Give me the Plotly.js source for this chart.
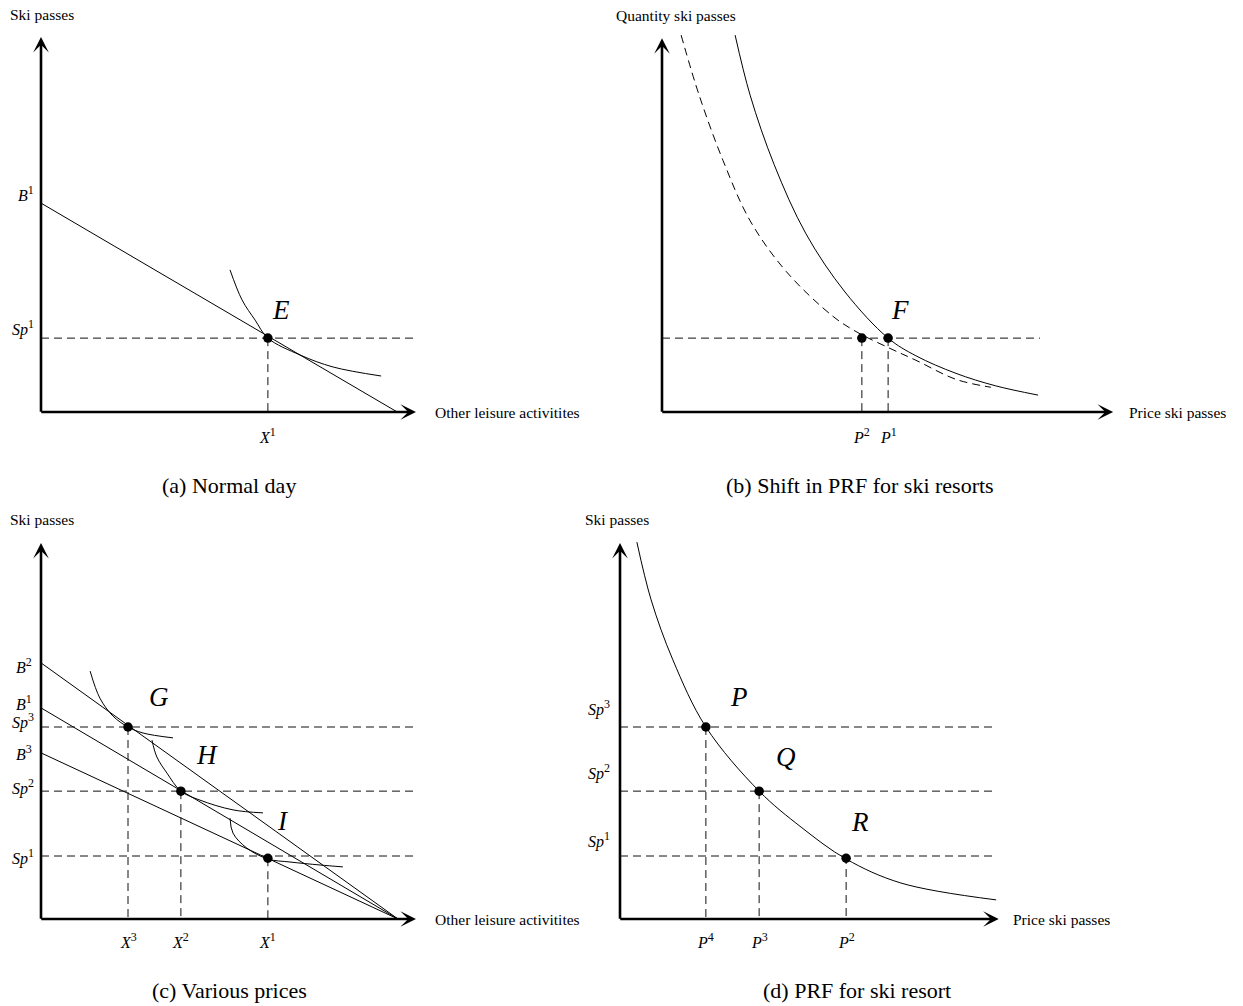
<!DOCTYPE html>
<html>
<head>
<meta charset="utf-8">
<script src="https://cdn.plot.ly/plotly-3.0.1.min.js"></script>
<style>html,body{margin:0;padding:0;background:#fff;}</style>
</head>
<body>
<div id="chart" style="width:1243px;height:1006px;"></div>
<script>
// superscript index drawn a little larger than Plotly's default 70%
function idx(base, n) {
  return '<i>' + base + '</i><sup><span style="font-size:12px">' + n + '</span></sup>';
}

// ---------- (a) Normal day ----------
const aBudgetX = [0, 9.5];
const aBudgetY = [5.57, 0];
const aIndiffX = [5.04, 5.36, 5.71, 6.05, 6.91, 7.79, 9.07];
const aIndiffY = [3.79, 2.99, 2.45, 1.97, 1.52, 1.20, 0.96];
const aPointE = [6.05, 1.97];
const aLeftTickVals = [5.57, 1.97];
const aLeftTickText = [idx('B', 1), idx('Sp', 1)];
const aBottomTickVals = [6.05];
const aBottomTickText = [idx('X', 1)];

// ---------- (b) Shift in PRF for ski resorts ----------
const bPrfX = [1.95, 2.35, 2.99, 3.84, 4.88, 6.03, 6.77, 7.84, 8.89, 10.03];
const bPrfY = [10.05, 8.45, 6.6, 4.75, 3.2, 1.97, 1.5, 1.03, 0.70, 0.45];
const bShiftedX = [0.51, 0.99, 1.63, 2.35, 3.31, 4.56, 5.20, 6.05, 6.77, 7.84, 8.77];
const bShiftedY = [10.05, 8.45, 6.7, 5.1, 3.75, 2.55, 2.13, 1.71, 1.38, 0.87, 0.66];
const bQuantity = 1.97;
const bPrices = [5.33, 6.03];
const bBottomTickText = [idx('P', 2), idx('P', 1)];

// ---------- (c) Various prices ----------
const cBudgetEnd = 9.52;
const cBudgetIntercepts = [6.83, 5.63, 4.43];          // B2, B1, B3
const cBudgetText = [idx('B', 2), idx('B', 1), idx('B', 3)];
const cSkiLevels = [5.12, 3.41, 1.68];                  // Sp3, Sp2, Sp1
const cSkiText = [idx('Sp', 3), idx('Sp', 2), idx('Sp', 1)];
const cOtherLevels = [2.32, 3.73, 6.05];                // X3, X2, X1
const cOtherText = [idx('X', 3), idx('X', 2), idx('X', 1)];
const cPointsX = [2.32, 3.73, 6.05];                    // G, H, I
const cPointsY = [5.12, 3.41, 1.62];
const cPointNames = ['G', 'H', 'I'];
const cIndiffGX = [1.31, 1.57, 1.92, 2.32, 2.72, 3.52];
const cIndiffGY = [6.61, 5.89, 5.41, 5.12, 4.96, 4.83];
const cIndiffHX = [2.96, 3.09, 3.36, 3.73, 4.24, 5.12, 5.92];
const cIndiffHY = [4.77, 4.32, 3.89, 3.41, 3.17, 2.91, 2.83];
const cIndiffIX = [5.04, 5.12, 5.49, 6.05, 6.64, 7.44, 8.05];
const cIndiffIY = [2.69, 2.29, 1.89, 1.60, 1.52, 1.44, 1.39];

// ---------- (d) PRF for ski resort ----------
const dPrfX = [0.45, 0.83, 1.41, 2.29, 3.71, 4.83, 6.03, 7.49, 10.03];
const dPrfY = [10.05, 8.51, 6.91, 5.12, 3.41, 2.45, 1.60, 0.96, 0.51];
const dSkiLevels = [5.12, 3.41, 1.68];                  // Sp3, Sp2, Sp1
const dSkiText = [idx('Sp', 3), idx('Sp', 2), idx('Sp', 1)];
const dPointsX = [2.29, 3.71, 6.03];                    // P, Q, R
const dPointsY = [5.12, 3.41, 1.62];
const dPointNames = ['P', 'Q', 'R'];
const dPriceText = [idx('P', 4), idx('P', 3), idx('P', 2)];

// ---------- page geometry ----------
const W = 1243, H = 1006, PX = 37.5;   // PX: pixels per unit on every axis
const FONT = 'Liberation Serif, Times New Roman, serif';
const TICK_SIZE = 16;
const frames = {
  a: {ax: 'x',  ay: 'y',  ox: 41,  oy: 412, xmax: 10.8, ymax: 10.3, xTip: 10,    yTip: 10,    dashEnd: 10},
  b: {ax: 'x2', ay: 'y2', ox: 662, oy: 412, xmax: 12.4, ymax: 10.3, xTip: 12.03, yTip: 9.97,  dashEnd: 10.08},
  c: {ax: 'x3', ay: 'y3', ox: 41,  oy: 919, xmax: 10.8, ymax: 10.3, xTip: 10,    yTip: 10.03, dashEnd: 9.97},
  d: {ax: 'x4', ay: 'y4', ox: 620, oy: 919, xmax: 10.5, ymax: 10.3, xTip: 10.1,  yTip: 10.03, dashEnd: 9.97}
};

const traces = [];
const annotations = [];

function curve(p, xs, ys, opts) {
  const f = frames[p];
  traces.push(Object.assign({
    x: xs, y: ys, xaxis: f.ax, yaxis: f.ay, mode: 'lines', hoverinfo: 'skip',
    line: {color: '#000', width: 1}
  }, opts || {}));
}
function smooth(p, xs, ys, dash) {
  curve(p, xs, ys, {line: {color: '#000', width: 1, shape: 'spline', smoothing: 1, dash: dash || 'solid'}});
}
function guideH(p, y) {
  curve(p, [0, frames[p].dashEnd], [y, y], {line: {color: '#111', width: 1, dash: '8px,5px'}});
}
function guideV(p, x, yTop) {
  curve(p, [x, x], [yTop, 0], {line: {color: '#111', width: 1, dash: '8px,5px'}});
}
function dots(p, xs, ys) {
  const f = frames[p];
  traces.push({x: xs, y: ys, xaxis: f.ax, yaxis: f.ay, mode: 'markers', hoverinfo: 'skip',
    cliponaxis: false, marker: {color: '#000', size: 9.5}});
}
function note(p, x, y, text, o) {
  const f = frames[p];
  annotations.push(Object.assign({
    x: x, y: y, xref: f.ax, yref: f.ay, text: text, showarrow: false,
    font: {family: FONT, size: TICK_SIZE, color: '#000'}
  }, o || {}));
}
function leftTick(p, y, text, dy, dx) {
  note(p, 0, y, text, {xanchor: 'right', yanchor: 'middle', xshift: dx, yshift: dy});
}
function bottomTick(p, x, text, dy) {
  note(p, x, 0, text, {xanchor: 'center', yanchor: 'middle', yshift: -dy});
}
function pointName(p, x, y, text, dx, dy) {
  note(p, x, y, '<i>' + text + '</i>', {xanchor: 'center', yanchor: 'middle', xshift: dx, yshift: dy,
    font: {family: FONT, size: 27, color: '#000'}});
}
function axesArrows(p, xTitle, yTitle, xTitleShift, yTitleShift) {
  const f = frames[p];
  const half = 1.25 / PX;
  const base = {xref: f.ax, yref: f.ay, axref: f.ax, ayref: f.ay, text: '', showarrow: true,
    arrowhead: 3, arrowsize: 1, arrowwidth: 2.6, arrowcolor: '#000', standoff: 0, startstandoff: 0};
  annotations.push(Object.assign({}, base, {x: f.xTip, y: 0, ax: -half, ay: 0}));
  annotations.push(Object.assign({}, base, {x: 0, y: f.yTip, ax: 0, ay: -half}));
  note(p, f.xTip, 0, xTitle, {xanchor: 'left', yanchor: 'middle', xshift: xTitleShift,
    font: {family: FONT, size: 15.5, color: '#000'}});
  note(p, 0, f.yTip, yTitle, {xanchor: 'left', yanchor: 'middle', xshift: yTitleShift, yshift: 23,
    font: {family: FONT, size: 15.5, color: '#000'}});
}

// (a)
curve('a', aBudgetX, aBudgetY);
smooth('a', aIndiffX, aIndiffY);
guideH('a', aPointE[1]);
guideV('a', aPointE[0], aPointE[1]);
dots('a', [aPointE[0]], [aPointE[1]]);
pointName('a', aPointE[0], aPointE[1], 'E', 13, 28);
aLeftTickVals.forEach((v, i) => leftTick('a', v, aLeftTickText[i], 10, -5));
aBottomTickVals.forEach((v, i) => bottomTick('a', v, aBottomTickText[i], 23));
axesArrows('a', 'Other leisure activitites', 'Ski passes', 17, -33);

// (b)
smooth('b', bShiftedX, bShiftedY, '8px,5px');
smooth('b', bPrfX, bPrfY);
guideH('b', bQuantity);
bPrices.forEach(v => guideV('b', v, bQuantity));
dots('b', bPrices, bPrices.map(() => bQuantity));
pointName('b', bPrices[1], bQuantity, 'F', 12, 28);
bPrices.forEach((v, i) => bottomTick('b', v, bBottomTickText[i], 23));
axesArrows('b', 'Price ski passes', 'Quantity ski passes', 14, -48);

// (c)
cBudgetIntercepts.forEach(b => curve('c', [0, cBudgetEnd], [b, 0]));
smooth('c', cIndiffGX, cIndiffGY);
smooth('c', cIndiffHX, cIndiffHY);
smooth('c', cIndiffIX, cIndiffIY);
cSkiLevels.forEach(v => guideH('c', v));
cOtherLevels.forEach((v, i) => guideV('c', v, cPointsY[i]));
dots('c', cPointsX, cPointsY);
const cNameShift = [[31, 30], [26, 36], [15, 37]];
cPointNames.forEach((n, i) => pointName('c', cPointsX[i], cPointsY[i], n, cNameShift[i][0], cNameShift[i][1]));
const cBudgetDy = [-3, 5, 0];
cBudgetIntercepts.forEach((v, i) => leftTick('c', v, cBudgetText[i], cBudgetDy[i], -7));
const cSkiDy = [6, 4, -1];
cSkiLevels.forEach((v, i) => leftTick('c', v, cSkiText[i], cSkiDy[i], -5));
cOtherLevels.forEach((v, i) => bottomTick('c', v, cOtherText[i], 21));
axesArrows('c', 'Other leisure activitites', 'Ski passes', 17, -33);

// (d)
smooth('d', dPrfX, dPrfY);
dSkiLevels.forEach(v => guideH('d', v));
dPointsX.forEach((v, i) => guideV('d', v, dSkiLevels[i]));
dots('d', dPointsX, dPointsY);
const dNameShift = [[33, 30], [27, 34], [14, 36]];
dPointNames.forEach((n, i) => pointName('d', dPointsX[i], dPointsY[i], n, dNameShift[i][0], dNameShift[i][1]));
const dSkiDy = [19, 19, 16];
dSkiLevels.forEach((v, i) => leftTick('d', v, dSkiText[i], dSkiDy[i], -8));
dPointsX.forEach((v, i) => bottomTick('d', v, dPriceText[i], 21));
axesArrows('d', 'Price ski passes', 'Ski passes', 12, -37);

// sub-figure captions
const captions = [
  ['(a) Normal day', 229, 485],
  ['(b) Shift in PRF for ski resorts', 860, 485],
  ['(c) Various prices', 229, 990],
  ['(d) PRF for ski resort', 857, 990]
];
captions.forEach(c => annotations.push({
  x: c[1] / W, y: 1 - c[2] / H, xref: 'paper', yref: 'paper', text: c[0], showarrow: false,
  xanchor: 'center', yanchor: 'middle', font: {family: FONT, size: 22, color: '#000'}
}));

const layout = {
  width: W, height: H, margin: {l: 0, r: 0, t: 0, b: 0},
  paper_bgcolor: '#fff', plot_bgcolor: 'rgba(0,0,0,0)',
  showlegend: false, hovermode: false, annotations: annotations
};
Object.keys(frames).forEach(k => {
  const f = frames[k];
  const xName = 'xaxis' + f.ax.slice(1);
  const yName = 'yaxis' + f.ay.slice(1);
  const y0 = (H - f.oy) / H;
  layout[xName] = {domain: [f.ox / W, (f.ox + f.xmax * PX) / W], range: [0, f.xmax],
    visible: false, fixedrange: true, anchor: f.ay};
  layout[yName] = {domain: [y0, y0 + f.ymax * PX / H], range: [0, f.ymax],
    visible: false, fixedrange: true, anchor: f.ax};
});

Plotly.newPlot('chart', traces, layout, {staticPlot: true, displayModeBar: false});
</script>
</body>
</html>
